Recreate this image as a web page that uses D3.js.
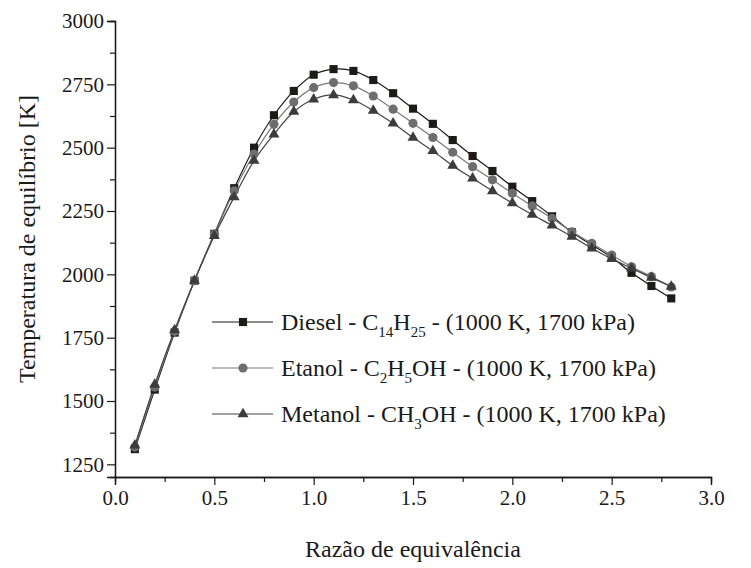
<!DOCTYPE html>
<html>
<head>
<meta charset="utf-8">
<script src="https://cdn.jsdelivr.net/npm/d3@7"></script>
<style>
  body { margin: 0; background: #fff; }
</style>
</head>
<body>
<div id="chart"></div>
<script>
// razao de equivalencia
var phi = [0.1, 0.2, 0.3, 0.4, 0.5, 0.6, 0.7, 0.8, 0.9, 1.0, 1.1, 1.2, 1.3, 1.4,
           1.5, 1.6, 1.7, 1.8, 1.9, 2.0, 2.1, 2.2, 2.3, 2.4, 2.5, 2.6, 2.7, 2.8];

var diesel  = [1310, 1545, 1770, 1975, 2160, 2340, 2500, 2628, 2724, 2788, 2810, 2803, 2767, 2715,
               2654, 2594, 2530, 2467, 2408, 2346, 2289, 2229, 2166, 2116, 2067, 2006, 1954, 1905];
var etanol  = [1318, 1555, 1775, 1975, 2158, 2330, 2475, 2592, 2680, 2737, 2757, 2744, 2704, 2652,
               2596, 2540, 2482, 2425, 2373, 2320, 2270, 2221, 2168, 2122, 2076, 2030, 1991, 1950];
var metanol = [1325, 1565, 1780, 1975, 2152, 2305, 2449, 2553, 2642, 2691, 2708, 2688, 2646, 2596,
               2540, 2487, 2429, 2379, 2329, 2281, 2236, 2193, 2149, 2103, 2061, 2024, 1987, 1952];

var xTicks = [0.0, 0.5, 1.0, 1.5, 2.0, 2.5, 3.0];
var xMinor = [0.25, 0.75, 1.25, 1.75, 2.25, 2.75];
var yTicks = [1250, 1500, 1750, 2000, 2250, 2500, 2750, 3000];
var yMinor = [1375, 1625, 1875, 2125, 2375, 2625, 2875];

var serif = "'Liberation Serif', 'Times New Roman', Times, 'DejaVu Serif', serif";

var margin = {top: 21, right: 40, bottom: 91, left: 115},
    width = 751 - margin.left - margin.right,
    height = 568 - margin.top - margin.bottom;

var svg = d3.select("#chart")
  .append("svg")
    .attr("width", 751)
    .attr("height", 568)
    .style("font-family", serif)
  .append("g")
    .attr("transform", "translate(" + margin.left + "," + margin.top + ")");

var x = d3.scaleLinear().domain([0, 3]).range([0, width]);
var y = d3.scaleLinear().domain([1200, 3000]).range([height, 0]);

// axes
svg.append("g")
  .attr("transform", "translate(0," + height + ")")
  .call(d3.axisBottom(x).tickValues(xTicks).tickFormat(d3.format(".1f")).tickSize(8).tickPadding(5));
svg.append("g")
  .attr("transform", "translate(0," + height + ")")
  .call(d3.axisBottom(x).tickValues(xMinor).tickFormat("").tickSize(5));

svg.append("g")
  .call(d3.axisLeft(y).tickValues(yTicks).tickFormat(d3.format("d")).tickSize(8).tickPadding(3));
svg.append("g")
  .call(d3.axisLeft(y).tickValues(yMinor).tickFormat("").tickSize(5));

svg.selectAll(".domain").attr("stroke", "#1a1a1a").attr("stroke-width", 1.3);
svg.selectAll(".tick line").attr("stroke", "#1a1a1a").attr("stroke-width", 1.2);
svg.selectAll(".tick text")
  .style("font-family", serif)
  .style("font-size", "21px")
  .attr("fill", "#1a1a1a");

// axis titles
svg.append("text")
  .attr("x", width / 2)
  .attr("y", height + 80)
  .attr("text-anchor", "middle")
  .attr("fill", "#1a1a1a")
  .style("font-family", serif)
  .style("font-size", "24px")
  .text("Razão de equivalência");

svg.append("text")
  .attr("transform", "translate(" + (-80) + "," + (height / 2 - 10) + ") rotate(-90)")
  .attr("text-anchor", "middle")
  .attr("fill", "#1a1a1a")
  .style("font-family", serif)
  .style("font-size", "24px")
  .text("Temperatura de equilíbrio [K]");

// series
var series = [
  {name: "diesel",  values: diesel,  line: "#1a1a1a", fill: "#1e1a1a", symbol: d3.symbolSquare,   size: 66,
   label: [["Diesel - C", 0], ["14", 1], ["H", 0], ["25", 1], [" - (1000 K, 1700 kPa)", 0]]},
  {name: "etanol",  values: etanol,  line: "#7a7a7a", fill: "#6e6e6e", symbol: d3.symbolCircle,   size: 66,
   label: [["Etanol - C", 0], ["2", 1], ["H", 0], ["5", 1], ["OH - (1000 K, 1700 kPa)", 0]]},
  {name: "metanol", values: metanol, line: "#444444", fill: "#3c3c3c", symbol: d3.symbolTriangle, size: 52,
   label: [["Metanol - CH", 0], ["3", 1], ["OH - (1000 K, 1700 kPa)", 0]]}
];

var line = d3.line()
  .x(function(d, i) { return x(phi[i]); })
  .y(function(d) { return y(d); })
  .curve(d3.curveCatmullRom.alpha(0.5));

series.forEach(function(s) {
  svg.append("path")
    .datum(s.values)
    .attr("fill", "none")
    .attr("stroke", s.line)
    .attr("stroke-width", 1.2)
    .attr("d", line);
});

series.forEach(function(s) {
  svg.selectAll(".pt-" + s.name)
    .data(s.values)
    .enter()
    .append("path")
      .attr("class", "pt-" + s.name)
      .attr("transform", function(d, i) { return "translate(" + x(phi[i]) + "," + y(d) + ")"; })
      .attr("d", d3.symbol().type(s.symbol).size(s.size))
      .attr("fill", s.fill);
});

// legend
var legend = svg.append("g").attr("transform", "translate(97,301)");

series.forEach(function(s, i) {
  var row = legend.append("g").attr("transform", "translate(0," + (i * 46) + ")");
  row.append("line")
    .attr("x1", 0).attr("x2", 61)
    .attr("stroke", s.line).attr("stroke-width", 1.2);
  row.append("path")
    .attr("transform", "translate(31,0)")
    .attr("d", d3.symbol().type(s.symbol).size(s.size))
    .attr("fill", s.fill);
  var t = row.append("text")
    .attr("x", 69)
    .attr("y", 8)
    .attr("fill", "#1a1a1a")
    .style("font-family", serif)
    .style("font-size", "24px");
  var prevSub = 0;
  s.label.forEach(function(part) {
    var sub = part[1];
    t.append("tspan")
      .attr("dy", sub === prevSub ? 0 : (sub ? 7 : -7))
      .style("font-size", sub ? "15px" : "24px")
      .text(part[0]);
    prevSub = sub;
  });
});
</script>
</body>
</html>
